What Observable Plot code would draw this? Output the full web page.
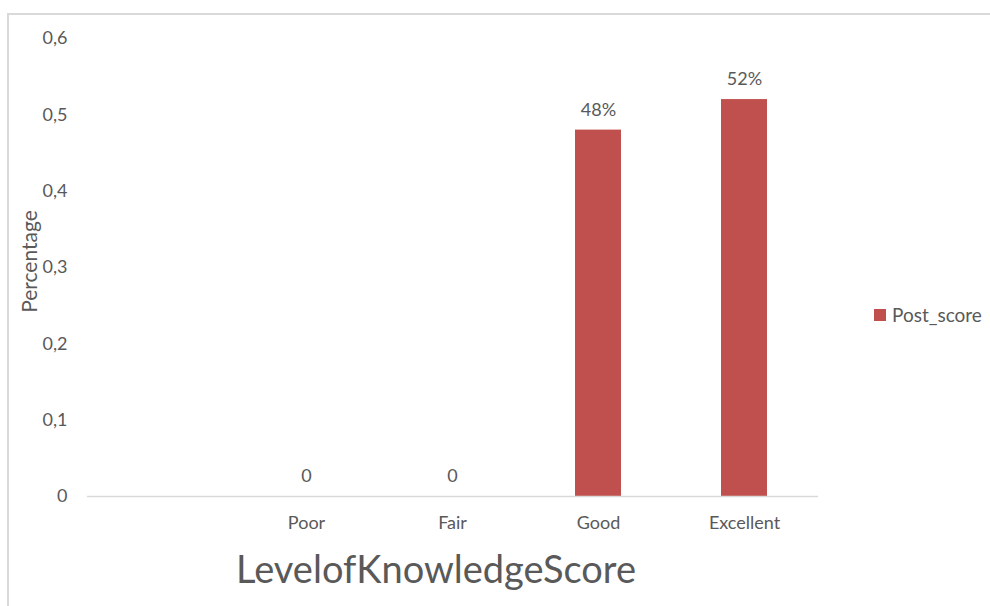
<!DOCTYPE html>
<html>
<head>
<meta charset="utf-8">
<script src="https://cdn.jsdelivr.net/npm/d3@7"></script>
<script src="https://cdn.jsdelivr.net/npm/@observablehq/plot@0.6"></script>
<style>
  html, body { margin: 0; padding: 0; background: #fff; }
  body { width: 990px; height: 606px; position: relative; overflow: hidden; font-family: Lato, "Open Sans", sans-serif; }
  #frameTop { position: absolute; left: 8px; top: 13px; width: 990px; height: 0; border-top: 2px solid #d9d9d9; }
  #frameLeft { position: absolute; left: 7px; top: 13px; width: 0; height: 600px; border-left: 2px solid #d9d9d9; }
  #chart { position: absolute; left: 0; top: 0; }
  #legend { position: absolute; left: 874px; top: 303px; display: flex; align-items: center; color: #595959; font-size: 19px; }
  #legend .sw { width: 12px; height: 12px; background: #c0504d; margin-right: 6px; }
</style>
</head>
<body>
<div id="frameTop"></div>
<div id="frameLeft"></div>
<div id="chart"></div>
<div id="legend"><span class="sw"></span><span id="legendText"></span></div>
<script>
const categories = ["", "Poor", "Fair", "Good", "Excellent"];
const postScore = [null, 0, 0, 0.48, 0.52];
const valueLabels = ["", "0", "0", "48%", "52%"];
const yTicks = [0, 0.1, 0.2, 0.3, 0.4, 0.5, 0.6];
const seriesName = "Post_score";
const xTitle = "LevelofKnowledgeScore";
const yTitle = "Percentage";

const data = categories.map((c, i) => ({category: c, value: postScore[i], label: valueLabels[i]}));
const barData = data.filter(d => d.value != null);

const gray = "#595959";
const fmt = v => v === 0 ? "0" : String(v).replace(".", ",");

const plot = Plot.plot({
  width: 990,
  height: 606,
  marginLeft: 87,
  marginRight: 172,
  marginTop: 38,
  marginBottom: 110,
  style: {fontFamily: "Lato, 'Open Sans', sans-serif", color: gray, background: "transparent"},
  x: {domain: categories, paddingInner: 0.682, paddingOuter: 0.341, align: 0.5},
  y: {domain: [0, 0.6]},
  marks: [
    Plot.axisY(yTicks, {tickSize: 0, tickPadding: 20, tickFormat: fmt, fontSize: 18, fill: gray, label: null}),
    Plot.axisX({tickSize: 0, tickPadding: 20, fontSize: 18, fill: gray, label: null}),
    Plot.barY(barData, {x: "category", y: "value", fill: "#c0504d"}),
    Plot.ruleY([0], {stroke: "#d9d9d9", strokeWidth: 1.5}),
    Plot.text(barData, {x: "category", y: "value", text: "label", dy: -20, fontSize: 18, fill: gray}),
    Plot.text([xTitle], {frameAnchor: "bottom", dx: -17, dy: 86, fontSize: 38, fill: gray}),
    Plot.text([yTitle], {frameAnchor: "left", textAnchor: "middle", rotate: -90, dx: -57, dy: -6, fontSize: 21, fill: gray})
  ]
});
document.getElementById("chart").appendChild(plot);
document.getElementById("legendText").textContent = seriesName;
</script>
</body>
</html>
